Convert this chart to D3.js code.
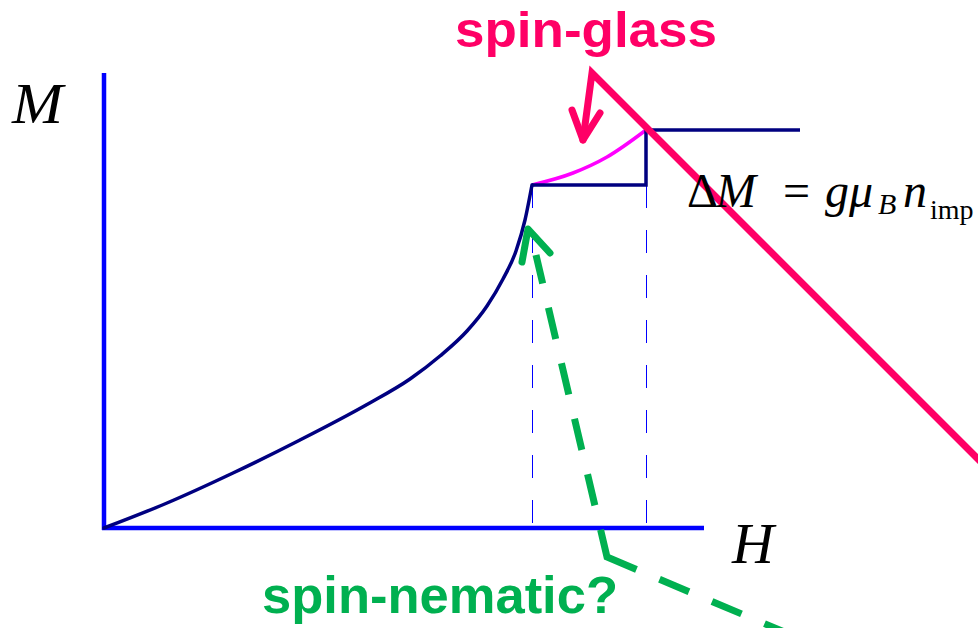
<!DOCTYPE html>
<html>
<head>
<meta charset="utf-8">
<script src="https://cdn.jsdelivr.net/npm/d3@7"></script>
<style>
  body { margin: 0; background: #fff; }
  svg { display: block; }
</style>
</head>
<body>
<div id="chart"></div>
<script>
// magnetisation curve M(H), below the first critical field
const curveH = [0, 0.63, 1.29, 1.96, 2.63, 3.06, 3.36, 3.63, 3.83, 3.99, 4.12, 4.21, 4.28]
const curveM = [0, 0.25, 0.55, 0.88, 1.235, 1.49, 1.72, 1.97, 2.22, 2.49, 2.77, 3.08, 3.43]

// spin-glass branch between the two critical fields
const glassH = [4.28, 4.69, 5.03, 5.42]
const glassM = [3.43, 3.55, 3.71, 3.98]

// plateau step
const hc1 = 4.28
const hc2 = 5.42
const mStep = 3.43
const mSat = 3.98
const hEnd = 6.96

// annotation arrows (same H / M units)
const glassArrowH = [9.1, 4.88, 4.79]
const glassArrowM = [0.33, 4.55, 3.88]
const glassHeadH = [4.68, 4.79, 4.96]
const glassHeadM = [4.18, 3.88, 4.15]

const nematicLineH = [4.32, 5.03, 7.3]
const nematicLineM = [2.73, -0.29, -1.25]
const nematicHeadH = [4.18, 4.24, 4.46]
const nematicHeadM = [2.66, 2.99, 2.75]

const width = 978
const height = 628

const svg = d3
  .select('#chart')
  .append('svg')
  .attr('width', width)
  .attr('height', height)

const xScale = d3.scaleLinear().domain([0, 6]).range([104, 704])
const yScale = d3.scaleLinear().domain([0, 4.55]).range([528, 73])

const toPts = (hs, ms) => hs.map((h, i) => [xScale(h), yScale(ms[i])])

// dashed guides at the critical fields
svg
  .append('g')
  .selectAll('line')
  .data([hc1, hc2])
  .join('line')
  .attr('x1', d => xScale(d) + 0.5)
  .attr('x2', d => xScale(d) + 0.5)
  .attr('y1', yScale(mStep))
  .attr('y2', yScale(0))
  .attr('stroke', '#0000ff')
  .attr('stroke-width', 1)
  .attr('stroke-dasharray', '23,22')

// axes
svg
  .append('line')
  .attr('x1', xScale(0))
  .attr('x2', xScale(0))
  .attr('y1', yScale(0) + 2)
  .attr('y2', yScale(4.55))
  .attr('stroke', '#0000ff')
  .attr('stroke-width', 4.5)

svg
  .append('line')
  .attr('x1', xScale(0) - 2)
  .attr('x2', xScale(6))
  .attr('y1', yScale(0))
  .attr('y2', yScale(0))
  .attr('stroke', '#0000ff')
  .attr('stroke-width', 4.5)

const smooth = d3.line().curve(d3.curveMonotoneX)

svg
  .append('path')
  .attr('d', smooth(toPts(glassH, glassM)))
  .attr('fill', 'none')
  .attr('stroke', '#ff00ff')
  .attr('stroke-width', 3.5)

svg
  .append('path')
  .attr('d', smooth(toPts(curveH, curveM)))
  .attr('fill', 'none')
  .attr('stroke', '#000080')
  .attr('stroke-width', 3.5)
  .attr('stroke-linecap', 'round')

// step: lower plateau, jump, saturation
const stepPts = toPts([hc1, hc2, hc2, hEnd], [mStep, mStep, mSat, mSat])
svg
  .append('path')
  .attr('d', d3.line()(stepPts))
  .attr('fill', 'none')
  .attr('stroke', '#000080')
  .attr('stroke-width', 3.5)

// spin-nematic arrow: dashed, with one long dash running round the bend
const nemPts = toPts(nematicLineH, nematicLineM)
const seg1 = Math.hypot(nemPts[1][0] - nemPts[0][0], nemPts[1][1] - nemPts[0][1])
const seg2 = Math.hypot(nemPts[2][0] - nemPts[1][0], nemPts[2][1] - nemPts[1][1])
const total = seg1 + seg2
const dash = 32
const gap = 25
const cornerStart = seg1 - 28
const cornerEnd = seg1 + 32
const intervals = []
for (let s = cornerStart - dash - gap; s + dash > 0; s -= dash + gap) {
  intervals.unshift([Math.max(0, s), s + dash])
}
intervals.push([cornerStart, cornerEnd])
for (let s = cornerEnd + gap; s < total; s += dash + gap) intervals.push([s, s + dash])
const dashArr = [0]
let cur = 0
intervals.forEach(([a, b]) => {
  dashArr.push(a - cur, b - a)
  cur = b
})
dashArr.push(2000)

svg
  .append('path')
  .attr('d', d3.line()(nemPts))
  .attr('fill', 'none')
  .attr('stroke', '#00b050')
  .attr('stroke-width', 7)
  .attr('stroke-linejoin', 'miter')
  .attr('stroke-dasharray', dashArr.join(','))

svg
  .append('path')
  .attr('d', d3.line()(toPts(nematicHeadH, nematicHeadM)))
  .attr('fill', 'none')
  .attr('stroke', '#00b050')
  .attr('stroke-width', 7)
  .attr('stroke-linecap', 'round')
  .attr('stroke-linejoin', 'round')

// spin-glass arrow
svg
  .append('path')
  .attr('d', d3.line()(toPts(glassArrowH, glassArrowM)))
  .attr('fill', 'none')
  .attr('stroke', '#ff0066')
  .attr('stroke-width', 7)
  .attr('stroke-linejoin', 'miter')
  .attr('stroke-linecap', 'round')

svg
  .append('path')
  .attr('d', d3.line()(toPts(glassHeadH, glassHeadM)))
  .attr('fill', 'none')
  .attr('stroke', '#ff0066')
  .attr('stroke-width', 7)
  .attr('stroke-linecap', 'round')
  .attr('stroke-linejoin', 'round')

// labels
const serif = '"Liberation Serif", "Times New Roman", serif'
const sans = '"Liberation Sans", Arial, sans-serif'

svg
  .append('text')
  .attr('x', 12)
  .attr('y', 123)
  .attr('font-family', serif)
  .attr('font-style', 'italic')
  .attr('font-size', 58)
  .attr('textLength', 51)
  .attr('lengthAdjust', 'spacingAndGlyphs')
  .text('M')

svg
  .append('text')
  .attr('x', 732)
  .attr('y', 563)
  .attr('font-family', serif)
  .attr('font-style', 'italic')
  .attr('font-size', 58)
  .text('H')

svg
  .append('text')
  .attr('x', 455)
  .attr('y', 47)
  .attr('font-family', sans)
  .attr('font-weight', 'bold')
  .attr('font-size', 50)
  .attr('fill', '#ff0066')
  .attr('textLength', 262)
  .attr('lengthAdjust', 'spacingAndGlyphs')
  .text('spin-glass')

svg
  .append('text')
  .attr('x', 262)
  .attr('y', 613)
  .attr('font-family', sans)
  .attr('font-weight', 'bold')
  .attr('font-size', 52)
  .attr('fill', '#00b050')
  .attr('textLength', 356)
  .attr('lengthAdjust', 'spacingAndGlyphs')
  .text('spin-nematic?')

// ΔM = g μ_B n_imp
const formula = [
  { t: '\u0394', x: 687, y: 207, size: 48, italic: false },
  { t: 'M', x: 716, y: 207, size: 48, italic: true },
  { t: '=', x: 783, y: 207, size: 48, italic: false },
  { t: 'g', x: 825, y: 207, size: 48, italic: true },
  { t: '\u03bc', x: 849, y: 207, size: 48, italic: true },
  { t: 'B', x: 878, y: 214, size: 30, italic: true },
  { t: 'n', x: 903, y: 207, size: 48, italic: true },
  { t: 'imp', x: 930, y: 219, size: 28, italic: false },
]

svg
  .append('g')
  .selectAll('text')
  .data(formula)
  .join('text')
  .attr('x', d => d.x)
  .attr('y', d => d.y)
  .attr('font-family', serif)
  .attr('font-size', d => d.size)
  .attr('font-style', d => (d.italic ? 'italic' : 'normal'))
  .text(d => d.t)
</script>
</body>
</html>
